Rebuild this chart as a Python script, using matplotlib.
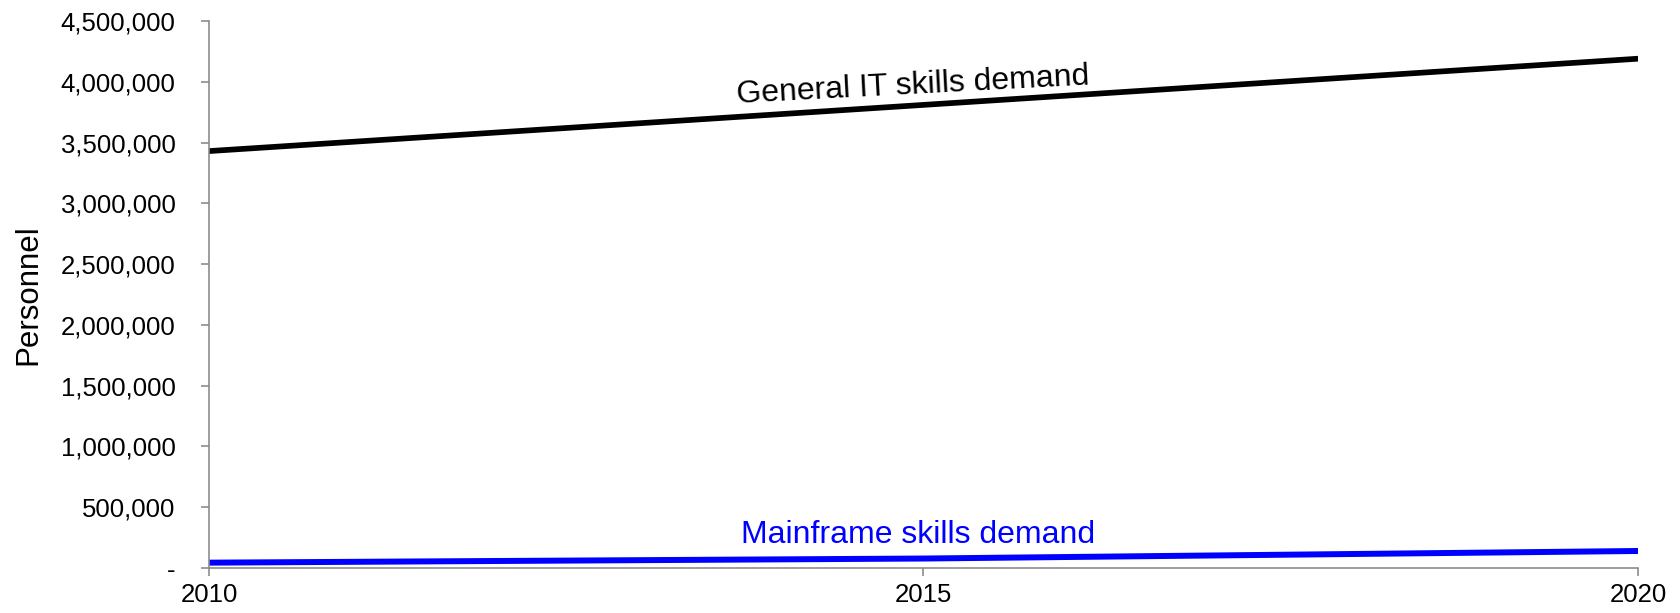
import matplotlib.pyplot as plt
from matplotlib.ticker import FuncFormatter, MultipleLocator

plt.rcParams['font.family'] = ['Liberation Sans', 'DejaVu Sans']

# data
years = [2010, 2015, 2020]
general_it = [3430000, 3810000, 4190000]
mainframe = [44000, 78000, 140000]

general_label = "General IT skills demand"
mainframe_label = "Mainframe skills demand"

fig = plt.figure(figsize=(16.81, 6.13), dpi=100)
ax = fig.add_axes([0.1243, 0.0734, 0.8501, 0.8923])

ax.plot(years, general_it, color='black', lw=4.1, solid_capstyle='round')
ax.plot(years, mainframe, color='#0000ff', lw=4.3, solid_capstyle='round')

ax.text(2014.93, 3905000, general_label, fontsize=23, color='black',
        ha='center', va='baseline', rotation=3.0, rotation_mode='anchor')
ax.text(2014.96, 205000, mainframe_label, fontsize=23, color='#0000ff',
        ha='center', va='baseline')

ax.set_xlim(2010, 2020)
ax.set_ylim(0, 4500000)
ax.set_xticks([2010, 2015, 2020])
ax.yaxis.set_major_locator(MultipleLocator(500000))
ax.yaxis.set_major_formatter(FuncFormatter(lambda v, p: '-' if v == 0 else f'{v:,.0f}'))

for side in ['top', 'right']:
    ax.spines[side].set_visible(False)
for side in ['left', 'bottom']:
    ax.spines[side].set_color('#8c8c8c')
    ax.spines[side].set_linewidth(1.2)

ax.tick_params(axis='y', direction='out', length=6, width=1.2, color='#8c8c8c',
               labelsize=18.5, pad=18)
ax.tick_params(axis='x', direction='out', length=6, width=1.2, color='#8c8c8c',
               labelsize=18.5, pad=5)

ax.set_ylabel('Personnel', fontsize=22.5)
ax.yaxis.set_label_coords(-0.116, 0.5)

fig.savefig('out.png', dpi=100)
